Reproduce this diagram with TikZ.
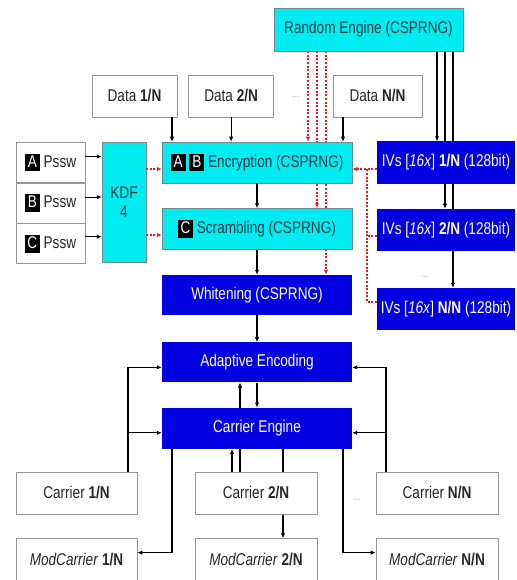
\documentclass[tikz,border=0pt]{standalone}
\usepackage{fontspec}
\setmainfont{Liberation Sans}[FakeStretch=0.8]
\usepackage{tikz}
\usetikzlibrary{arrows.meta, positioning, calc, backgrounds}
\definecolor{RndCyan}{RGB}{0, 236, 240}
\definecolor{RndInk}{RGB}{20, 60, 70}
\definecolor{EngBlue}{RGB}{0, 0, 225}
\definecolor{BoxGray}{RGB}{150, 150, 150}
\definecolor{RndRed}{RGB}{225, 30, 40}
\newcommand{\keybox}[1]{{\setlength{\fboxsep}{2pt}\colorbox{black}{\textcolor{white}{\makebox[11pt]{\rule[-2pt]{0pt}{13pt}#1}}}}}

\begin{document}
\begin{tikzpicture}[
  x=1pt, y=-1pt,
  font=\fontsize{17}{19}\selectfont,
  databox/.style={draw=BoxGray, fill=white, line width=0.6pt,
                  minimum height=42pt, text=black!85, inner sep=2pt},
  cyanbox/.style={draw=RndInk!60, fill=RndCyan, line width=0.5pt,
                  minimum width=190pt, minimum height=41pt, text=RndInk},
  bluebox/.style={fill=EngBlue, minimum width=190pt, minimum height=40pt, text=white},
  ivbox/.style={fill=EngBlue, minimum width=138pt, minimum height=42pt,
                text=white, inner sep=2pt},
  pswbox/.style={databox, minimum width=69pt, minimum height=40pt},
  more/.style={text=gray!70, font=\fontsize{10}{12}\selectfont},
  arr/.style={-{Latex[length=5pt,width=4.5pt]}, line width=1.2pt},
  rndline/.style={RndRed, line width=1.9pt, dash pattern=on 2pt off 1.6pt},
  rndarr/.style={rndline, -{Latex[length=5pt,width=4.5pt]}},
  node distance=25pt,
]
\useasboundingbox (0,0) rectangle (516,580);

% top row
\node[cyanbox, minimum width=189pt, minimum height=43pt] (rng) at (368.5,29.5) {Random Engine (CSPRNG)};
\node[databox, minimum width=85pt] (data1) at (134.5,96) {Data \textbf{1/N}};
\node[databox, minimum width=85pt, right=11pt of data1] (data2) {Data \textbf{2/N}};
\node[more] (datadots) at (296,97) {...};
\node[databox, minimum width=89pt] (dataN) at (377.5,96) {Data \textbf{N/N}};

% main column
\node[cyanbox] (enc) at (257,162.5) {\keybox{A} \keybox{B} Encryption (CSPRNG)};
\node[cyanbox, below=of enc]       (scr)   {\keybox{C} Scrambling (CSPRNG)};
\node[bluebox, below=of scr]       (whit)  {Whitening (CSPRNG)};
\node[bluebox, below=27pt of whit] (adapt) {Adaptive Encoding};
\node[bluebox, minimum height=41pt, below=of adapt] (carr) {Carrier Engine};

% passwords and KDF
\node[pswbox] (pA) at (50.5,162.5) {\keybox{A} Pssw};
\node[pswbox, below=0pt of pA] (pB) {\keybox{B} Pssw};
\node[pswbox, below=0pt of pB] (pC) {\keybox{C} Pssw};
\node[cyanbox, minimum width=44pt, minimum height=120pt, align=center] (kdf) at (124,202) {KDF\\4};

% IVs
\node[ivbox] (iv1) at (446,162.5) {IVs [\textit{16x}] \textbf{1/N} (128bit)};
\node[ivbox, below=of iv1] (iv2) {IVs [\textit{16x}] \textbf{2/N} (128bit)};
\node[more] (ivdots) at (425,277) {...};
\node[ivbox] (ivN) at (446,309) {IVs [\textit{16x}] \textbf{N/N} (128bit)};

% carriers
\node[databox, minimum width=121pt] (c1) at (76.5,493) {Carrier \textbf{1/N}};
\node[databox, minimum width=122pt] (c2) at (256,493) {Carrier \textbf{2/N}};
\node[more] (cdots) at (357,500) {...};
\node[databox, minimum width=122pt] (cN) at (437,493) {Carrier \textbf{N/N}};
\node[databox, minimum width=121pt, below=24pt of c1] (m1) {\textit{ModCarrier} \textbf{1/N}};
\node[databox, minimum width=122pt, below=24pt of c2] (m2) {\textit{ModCarrier} \textbf{2/N}};
\node[databox, minimum width=122pt, below=24pt of cN] (mN) {\textit{ModCarrier} \textbf{N/N}};

% lanes and hit points
\coordinate (ld1)  at (172,0);
\coordinate (ldN)  at (343,0);
\coordinate (r1)   at (308,0);
\coordinate (r2)   at (317,0);
\coordinate (r3)   at (326,0);
\coordinate (g1)   at (437,0);
\coordinate (g2)   at (445,0);
\coordinate (g3)   at (453,0);
\coordinate (ivl)  at (367,0);
\coordinate (lc1)  at (128,0);
\coordinate (lcN)  at (386,0);
\coordinate (lc2a) at (232,0);
\coordinate (lc2b) at (240,0);
\coordinate (lc2m) at (283,0);
\coordinate (kA)   at ($(pA.east)+(0,-6)$);
\coordinate (kB)   at ($(pB.east)+(0,-6)$);
\coordinate (kC)   at ($(pC.east)+(0,-7)$);
\coordinate (kenc) at ($(enc.west)+(0,6.5)$);
\coordinate (kscr) at ($(scr.west)+(0,6)$);
\coordinate (ivhit) at ($(enc.east)+(0,6.5)$);
\coordinate (iv2in) at ($(iv2.west)+(0,6)$);
\coordinate (ivNin) at ($(ivN.west)+(0,-7)$);
\coordinate (aL)   at ($(adapt.west)+(0,5)$);
\coordinate (aR)   at ($(adapt.east)+(0,5)$);
\coordinate (eL)   at ($(carr.west)+(0,4.5)$);
\coordinate (eR)   at ($(carr.east)+(0,4.5)$);
\coordinate (mL)   at ($(m1.east)+(0,-7)$);
\coordinate (mR)   at ($(mN.west)+(0,-7)$);

\begin{scope}[on background layer]
\draw[rndarr] (r1 |- rng.south) -- (r1 |- enc.north);
\draw[rndarr] (r2 |- rng.south) -- (r2 |- scr.north);
\draw[rndarr] (r3 |- rng.south) -- (r3 |- whit.north);
\draw[arr] (g1 |- rng.south) -- (g1 |- iv1.north);
\draw[arr] (g2 |- rng.south) -- (g2 |- iv2.north);
\draw[arr] (g3 |- rng.south) -- (g3 |- ivN.north);
\draw[arr] (lc2b |- c2.north) -- (lc2b |- adapt.south);
\draw[arr] (lc2m |- carr.south) -- (lc2m |- m2.north);
\end{scope}

% data in
\draw[arr] (ld1 |- data1.south) -- (ld1 |- enc.north);
\draw[arr] (data2.south) -- (data2.south |- enc.north);
\draw[arr] (ldN |- dataN.south) -- (ldN |- enc.north);

% keys
\draw[arr] (kA) -- (kA -| kdf.west);
\draw[arr] (kB) -- (kB -| kdf.west);
\draw[arr] (kC) -- (kC -| kdf.west);
\draw[rndarr] (kenc -| kdf.east) -- (kenc);
\draw[rndarr] (kscr -| kdf.east) -- (kscr);

% main chain
\draw[arr] (enc) -- (scr);
\draw[arr] (scr) -- (whit);
\draw[arr] (whit) -- (adapt);
\draw[arr] (adapt) -- (carr);

% IVs to encryption
\draw[rndarr] (ivhit -| iv1.west) -- (ivhit);
\draw[rndline] (iv2in) -- (iv2in -| ivl);
\draw[rndline] (ivNin) -| (ivl |- ivhit);

% carriers
\draw[arr] (lc1 |- c1.north) |- (aL);
\draw[arr] (eL -| lc1) -- (eL);
\draw[arr] (lcN |- cN.north) |- (aR);
\draw[arr] (eR -| lcN) -- (eR);
\draw[arr] (lc2a |- c2.north) -- (lc2a |- carr.south);
\draw[arr] (ld1 |- carr.south) |- (mL);
\draw[arr] (ldN |- carr.south) |- (mR);
\end{tikzpicture}
\end{document}
